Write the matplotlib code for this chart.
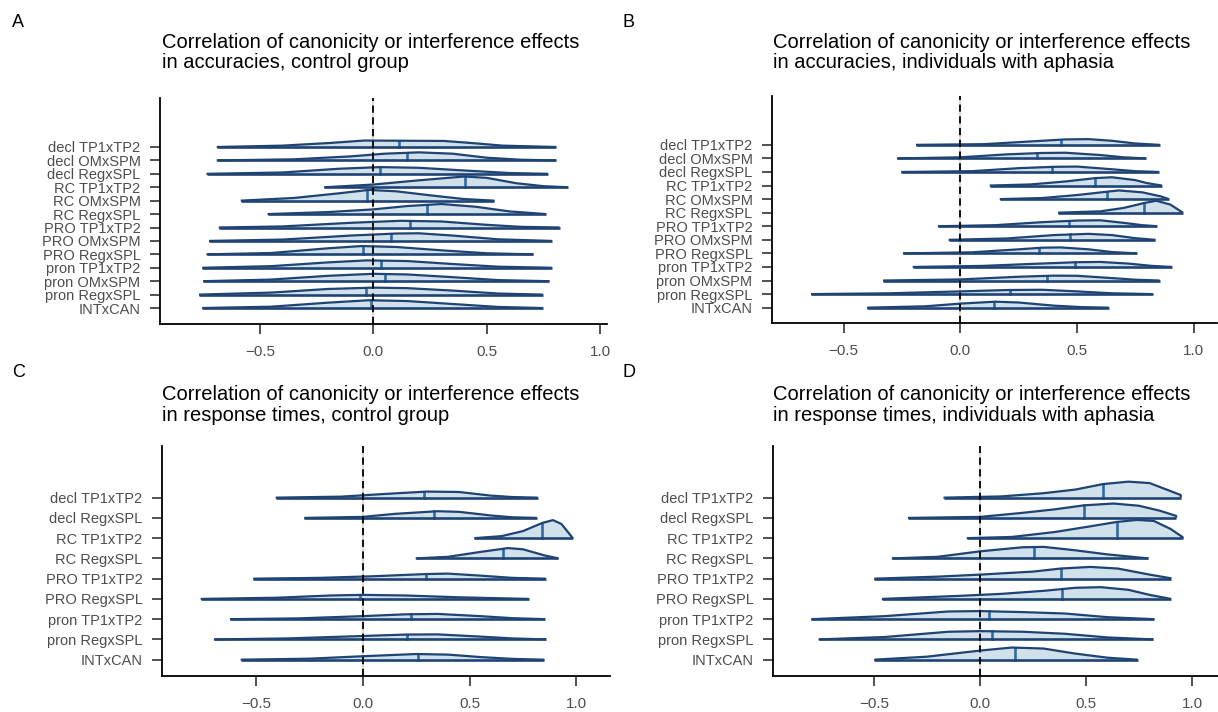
import numpy as np
import matplotlib
matplotlib.use('Agg')
import matplotlib.pyplot as plt

plt.rcParams['font.family'] = ['Liberation Sans', 'DejaVu Sans']

# Row labels (top to bottom)
labels_acc = ['decl TP1xTP2', 'decl OMxSPM', 'decl RegxSPL', 'RC TP1xTP2', 'RC OMxSPM',
              'RC RegxSPL', 'PRO TP1xTP2', 'PRO OMxSPM', 'PRO RegxSPL', 'pron TP1xTP2',
              'pron OMxSPM', 'pron RegxSPL', 'INTxCAN']
labels_rt = ['decl TP1xTP2', 'decl RegxSPL', 'RC TP1xTP2', 'RC RegxSPL', 'PRO TP1xTP2',
             'PRO RegxSPL', 'pron TP1xTP2', 'pron RegxSPL', 'INTxCAN']

# Posterior medians (top to bottom)
median_A = [0.115, 0.147, 0.03, 0.404, -0.026, 0.235, 0.16, 0.078, -0.047, 0.032, 0.05, -0.03, -0.012]
median_B = [0.43, 0.329, 0.394, 0.579, 0.629, 0.789, 0.464, 0.471, 0.337, 0.493, 0.371, 0.211, 0.146]
median_C = [0.287, 0.334, 0.838, 0.655, 0.296, -0.012, 0.228, 0.209, 0.257]
median_D = [0.582, 0.492, 0.645, 0.255, 0.38, 0.387, 0.044, 0.058, 0.164]

# Density outlines: (x, height in row units)
dens_A = [
    [(-0.69, 0), (-0.4, 0.1), (-0.19, 0.3), (-0.04, 0.48), (0.31, 0.45), (0.43, 0.3), (0.57, 0.1), (0.806, 0)],
    [(-0.69, 0), (-0.35, 0.08), (-0.1, 0.3), (0.05, 0.5), (0.2, 0.6), (0.35, 0.5), (0.5, 0.2), (0.65, 0.05), (0.806, 0)],
    [(-0.735, 0), (-0.4, 0.1), (-0.15, 0.38), (0.03, 0.5), (0.2, 0.45), (0.4, 0.25), (0.6, 0.06), (0.769, 0)],
    [(-0.216, 0), (0.0, 0.2), (0.19, 0.5), (0.4, 0.8), (0.5, 0.7), (0.63, 0.3), (0.75, 0.08), (0.857, 0)],
    [(-0.584, 0), (-0.35, 0.2), (-0.15, 0.55), (-0.02, 0.8), (0.1, 0.7), (0.25, 0.4), (0.4, 0.12), (0.534, 0)],
    [(-0.466, 0), (-0.2, 0.15), (0.0, 0.35), (0.15, 0.6), (0.3, 0.75), (0.45, 0.55), (0.6, 0.2), (0.762, 0)],
    [(-0.681, 0), (-0.4, 0.08), (-0.1, 0.35), (0.12, 0.5), (0.3, 0.45), (0.5, 0.2), (0.65, 0.05), (0.821, 0)],
    [(-0.724, 0), (-0.4, 0.1), (-0.1, 0.4), (0.1, 0.55), (0.2, 0.57), (0.35, 0.4), (0.55, 0.12), (0.787, 0)],
    [(-0.735, 0), (-0.45, 0.1), (-0.2, 0.45), (-0.05, 0.62), (0.1, 0.55), (0.3, 0.3), (0.5, 0.08), (0.706, 0)],
    [(-0.754, 0), (-0.45, 0.12), (-0.2, 0.4), (-0.03, 0.55), (0.15, 0.5), (0.35, 0.28), (0.55, 0.08), (0.787, 0)],
    [(-0.75, 0), (-0.45, 0.12), (-0.2, 0.4), (0.0, 0.55), (0.15, 0.5), (0.35, 0.3), (0.55, 0.08), (0.776, 0)],
    [(-0.768, 0), (-0.45, 0.15), (-0.2, 0.42), (0.0, 0.52), (0.15, 0.48), (0.35, 0.3), (0.55, 0.08), (0.747, 0)],
    [(-0.754, 0), (-0.45, 0.1), (-0.2, 0.4), (-0.02, 0.58), (0.15, 0.52), (0.35, 0.3), (0.55, 0.08), (0.746, 0)],
]
dens_B = [
    [(-0.19, 0), (0.1, 0.05), (0.3, 0.25), (0.45, 0.4), (0.55, 0.42), (0.65, 0.3), (0.75, 0.1), (0.854, 0)],
    [(-0.271, 0), (0.0, 0.08), (0.2, 0.3), (0.35, 0.4), (0.45, 0.42), (0.6, 0.25), (0.7, 0.08), (0.796, 0)],
    [(-0.253, 0), (0.05, 0.06), (0.25, 0.28), (0.4, 0.38), (0.5, 0.4), (0.65, 0.2), (0.75, 0.06), (0.85, 0)],
    [(0.126, 0), (0.3, 0.08), (0.45, 0.3), (0.58, 0.55), (0.65, 0.61), (0.75, 0.4), (0.8, 0.18), (0.864, 0)],
    [(0.169, 0), (0.35, 0.08), (0.5, 0.3), (0.63, 0.55), (0.68, 0.64), (0.78, 0.5), (0.86, 0.2), (0.893, 0)],
    [(0.419, 0), (0.6, 0.1), (0.7, 0.35), (0.79, 0.72), (0.84, 0.88), (0.9, 0.6), (0.954, 0)],
    [(-0.096, 0), (0.15, 0.08), (0.35, 0.3), (0.5, 0.42), (0.6, 0.44), (0.7, 0.25), (0.78, 0.08), (0.843, 0)],
    [(-0.05, 0), (0.2, 0.1), (0.4, 0.35), (0.55, 0.44), (0.65, 0.35), (0.75, 0.12), (0.836, 0)],
    [(-0.246, 0), (0.05, 0.08), (0.25, 0.3), (0.35, 0.42), (0.43, 0.44), (0.55, 0.3), (0.65, 0.1), (0.757, 0)],
    [(-0.204, 0), (0.1, 0.08), (0.3, 0.22), (0.5, 0.35), (0.6, 0.37), (0.72, 0.25), (0.82, 0.08), (0.907, 0)],
    [(-0.331, 0), (0.0, 0.08), (0.25, 0.28), (0.4, 0.36), (0.5, 0.35), (0.65, 0.18), (0.75, 0.06), (0.854, 0)],
    [(-0.64, 0), (-0.3, 0.06), (0.0, 0.2), (0.2, 0.3), (0.35, 0.32), (0.5, 0.2), (0.65, 0.06), (0.824, 0)],
    [(-0.4, 0), (-0.15, 0.1), (0.0, 0.3), (0.15, 0.44), (0.25, 0.38), (0.4, 0.15), (0.52, 0.04), (0.636, 0)],
]
dens_C = [
    [(-0.407, 0), (-0.1, 0.05), (0.1, 0.18), (0.3, 0.3), (0.45, 0.28), (0.6, 0.1), (0.7, 0.03), (0.819, 0)],
    [(-0.273, 0), (0.0, 0.05), (0.15, 0.2), (0.35, 0.33), (0.45, 0.3), (0.6, 0.12), (0.7, 0.03), (0.814, 0)],
    [(0.523, 0), (0.65, 0.1), (0.75, 0.35), (0.84, 0.75), (0.89, 0.89), (0.93, 0.7), (0.983, 0)],
    [(0.248, 0), (0.4, 0.08), (0.55, 0.32), (0.68, 0.51), (0.75, 0.45), (0.85, 0.15), (0.916, 0)],
    [(-0.512, 0), (-0.2, 0.04), (0.05, 0.12), (0.3, 0.23), (0.4, 0.25), (0.55, 0.15), (0.7, 0.04), (0.856, 0)],
    [(-0.758, 0), (-0.4, 0.06), (-0.15, 0.17), (0.0, 0.2), (0.2, 0.17), (0.45, 0.08), (0.778, 0)],
    [(-0.621, 0), (-0.3, 0.04), (0.0, 0.15), (0.2, 0.24), (0.35, 0.26), (0.55, 0.15), (0.7, 0.05), (0.853, 0)],
    [(-0.696, 0), (-0.35, 0.05), (0.0, 0.17), (0.2, 0.24), (0.35, 0.25), (0.55, 0.14), (0.7, 0.05), (0.858, 0)],
    [(-0.571, 0), (-0.25, 0.05), (0.0, 0.17), (0.25, 0.28), (0.4, 0.25), (0.55, 0.13), (0.7, 0.04), (0.85, 0)],
]
dens_D = [
    [(-0.173, 0), (0.1, 0.06), (0.3, 0.22), (0.45, 0.4), (0.58, 0.67), (0.7, 0.79), (0.8, 0.72), (0.88, 0.4), (0.947, 0.13), (0.947, 0)],
    [(-0.341, 0), (0.0, 0.05), (0.2, 0.25), (0.35, 0.42), (0.49, 0.62), (0.63, 0.71), (0.75, 0.6), (0.85, 0.35), (0.925, 0.1), (0.925, 0)],
    [(-0.063, 0), (0.15, 0.06), (0.35, 0.3), (0.5, 0.55), (0.645, 0.8), (0.74, 0.9), (0.82, 0.85), (0.9, 0.45), (0.956, 0.05), (0.956, 0)],
    [(-0.417, 0), (-0.2, 0.08), (0.0, 0.35), (0.2, 0.55), (0.3, 0.57), (0.45, 0.4), (0.6, 0.2), (0.794, 0)],
    [(-0.5, 0), (-0.2, 0.1), (0.0, 0.2), (0.25, 0.35), (0.38, 0.5), (0.52, 0.58), (0.65, 0.5), (0.8, 0.2), (0.9, 0.02), (0.9, 0)],
    [(-0.464, 0), (-0.1, 0.15), (0.1, 0.25), (0.3, 0.4), (0.45, 0.55), (0.57, 0.58), (0.7, 0.45), (0.8, 0.2), (0.901, 0)],
    [(-0.797, 0), (-0.45, 0.15), (-0.15, 0.38), (0.0, 0.4), (0.2, 0.35), (0.4, 0.28), (0.6, 0.1), (0.822, 0)],
    [(-0.763, 0), (-0.45, 0.12), (-0.15, 0.38), (0.0, 0.41), (0.2, 0.38), (0.4, 0.28), (0.6, 0.1), (0.818, 0)],
    [(-0.5, 0), (-0.25, 0.15), (0.0, 0.45), (0.15, 0.6), (0.3, 0.55), (0.45, 0.3), (0.6, 0.1), (0.744, 0)],
]

titles = [
    'Correlation of canonicity or interference effects\nin accuracies, control group',
    'Correlation of canonicity or interference effects\nin accuracies, individuals with aphasia',
    'Correlation of canonicity or interference effects\nin response times, control group',
    'Correlation of canonicity or interference effects\nin response times, individuals with aphasia',
]

FILL = '#d1e1ec'
EDGE = '#1f4373'
MED = '#2f6ba0'

W, H = 1218, 712
fig = plt.figure(figsize=(W / 100, H / 100), dpi=100)


def px_axes(left, right, top, bottom):
    return fig.add_axes([left / W, 1 - bottom / H, (right - left) / W, (bottom - top) / H])


def draw_panel(ax, labels, medians, dens, xlim, ylim):
    n = len(labels)
    for i, pts in enumerate(dens):
        y0 = n - i
        xs = np.array([p[0] for p in pts])
        hs = np.array([p[1] for p in pts])
        z = 2 + i
        ax.fill(xs, y0 + hs, color=FILL, lw=0, zorder=z)
        ax.plot(xs, y0 + hs, color=EDGE, lw=1.6, zorder=z + 0.2, solid_capstyle='butt')
        ax.plot([xs.min(), xs.max()], [y0, y0], color=EDGE, lw=1.9, zorder=z + 0.2,
                solid_capstyle='butt')
        hm = np.interp(medians[i], xs, hs)
        ax.plot([medians[i], medians[i]], [y0, y0 + hm], color=MED, lw=1.9, zorder=z + 0.1)
    ax.axvline(0, color='#dddddd', lw=1.6, zorder=1)
    ax.axvline(0, color='black', lw=1.3, ls=(0, (4, 2.5)), zorder=50)
    ax.set_xlim(*xlim)
    ax.set_ylim(*ylim)
    ax.set_yticks(np.arange(n, 0, -1))
    ax.set_yticklabels(labels)
    ax.set_xticks([-0.5, 0.0, 0.5, 1.0])
    for s in ['top', 'right']:
        ax.spines[s].set_visible(False)
    for s in ['left', 'bottom']:
        ax.spines[s].set_linewidth(1.3)
    ax.tick_params(axis='both', length=7, width=1.2, color='#333333', labelcolor='#4d4d4d')
    ax.tick_params(axis='x', labelsize=11, pad=8)
    ax.tick_params(axis='y', labelsize=10.5, pad=7)


axA = px_axes(160, 607, 98, 324)
axB = px_axes(772, 1217, 96, 323)
axC = px_axes(162, 610, 446, 676)
axD = px_axes(773, 1218, 446, 676)

draw_panel(axA, labels_acc, median_A, dens_A, (-0.94, 1.03), (-0.19, 16.65))
draw_panel(axB, labels_acc, median_B, dens_B, (-0.807, 1.10), (-0.13, 16.6))
draw_panel(axC, labels_rt, median_C, dens_C, (-0.939, 1.157), (0.195, 11.55))
draw_panel(axD, labels_rt, median_D, dens_D, (-0.978, 1.123), (0.195, 11.55))

for letter, lx, ly in [('A', 12, 14), ('B', 622, 14), ('C', 12, 364), ('D', 622, 364)]:
    fig.text(lx / W, 1 - ly / H, letter, fontsize=13, va='top', ha='left')
for t, tx, ty in zip(titles, [162, 773, 162, 773], [32.5, 32.5, 385, 385]):
    fig.text(tx / W, 1 - ty / H, t, fontsize=14.5, va='top', ha='left', linespacing=1.12)

fig.savefig('out.png', dpi=100)
